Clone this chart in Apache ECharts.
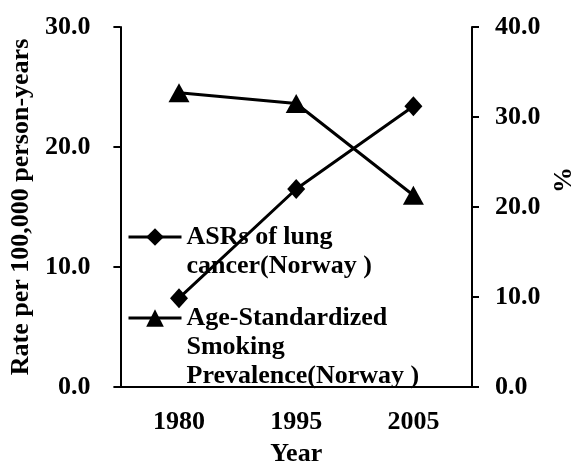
<!DOCTYPE html>
<html>
<head>
<meta charset="utf-8">
<script src="https://cdn.jsdelivr.net/npm/echarts@6/dist/echarts.min.js"></script>
<style>
  html, body { margin: 0; padding: 0; background: #fff; }
  #chart { width: 587px; height: 472px; }
</style>
</head>
<body>
<div id="chart"></div>
<script>
// data
const years = ['1980', '1995', '2005']
const lungRate = [7.4, 16.5, 23.4]        // left axis, per 100,000
const smokingPct = [32.7, 31.5, 21.3]     // right axis, %
const leftTicks = [0, 10, 20, 30]
const rightTicks = [0, 10, 20, 30, 40]

const FONT = 'Liberation Serif'
const txt = { fontFamily: FONT, fontWeight: 'bold', fontSize: 26, color: '#000' }

let chart = echarts.init(document.getElementById('chart'))

// legend text is centred on its icon, so pad with empty lines on top
// to keep the first line level with the icon (like excel does)
function legendItem(top, blanks) {
  return {
    left: 127, top: top, padding: 0,
    itemWidth: 53, itemHeight: 22,
    lineStyle: { width: 3, color: '#000' },
    textStyle: Object.assign({}, txt, { lineHeight: 29 }),
    formatter: name => '\n'.repeat(blanks) + name
  }
}

let option = {
  backgroundColor: '#fff',
  animation: false,
  grid: { left: 120, right: 115, top: 27, bottom: 78 },
  legend: [
    Object.assign(legendItem(193.5, 1), { data: ['ASRs of lung\ncancer(Norway )'] }),
    Object.assign(legendItem(245.5, 2), { data: ['Age-Standardized\nSmoking\nPrevalence(Norway )'] })
  ],
  xAxis: {
    type: 'category',
    data: years,
    name: 'Year',
    nameLocation: 'middle',
    nameGap: 54,
    nameTextStyle: txt,
    axisLine: { lineStyle: { color: '#000', width: 2 } },
    axisTick: { alignWithLabel: true, length: 6, lineStyle: { color: '#000', width: 2 } },
    axisLabel: Object.assign({}, txt, { margin: 22 }),
    splitLine: { show: false }
  },
  yAxis: [
    {
      type: 'value',
      min: leftTicks[0], max: leftTicks[leftTicks.length - 1], interval: 10,
      name: 'Rate per 100,000 person-years',
      nameLocation: 'middle',
      nameRotate: 90,
      nameGap: 82,
      nameTextStyle: txt,
      axisLine: { show: true, lineStyle: { color: '#000', width: 2 } },
      axisTick: { show: true, length: 7, lineStyle: { color: '#000', width: 2 } },
      axisLabel: Object.assign({}, txt, { margin: 30, formatter: v => v.toFixed(1) }),
      splitLine: { show: false }
    },
    {
      type: 'value',
      position: 'right',
      min: rightTicks[0], max: rightTicks[rightTicks.length - 1], interval: 10,
      name: '%',
      nameLocation: 'middle',
      nameRotate: 90,
      nameGap: 76,
      nameTextStyle: Object.assign({}, txt, { padding: [0, 0, 0, 54] }),
      axisLine: { show: true, lineStyle: { color: '#000', width: 2 } },
      axisTick: { show: true, length: 7, lineStyle: { color: '#000', width: 2 } },
      axisLabel: Object.assign({}, txt, { margin: 23, formatter: v => v.toFixed(1) }),
      splitLine: { show: false }
    }
  ],
  series: [
    {
      name: 'ASRs of lung\ncancer(Norway )',
      type: 'line',
      yAxisIndex: 0,
      data: lungRate,
      symbol: 'diamond',
      symbolSize: [18, 20],
      lineStyle: { color: '#000', width: 3 },
      itemStyle: { color: '#000' }
    },
    {
      name: 'Age-Standardized\nSmoking\nPrevalence(Norway )',
      type: 'line',
      yAxisIndex: 1,
      data: smokingPct,
      symbol: 'triangle',
      symbolSize: [21, 19],
      lineStyle: { color: '#000', width: 3 },
      itemStyle: { color: '#000' }
    }
  ]
}
chart.setOption(option)
</script>
</body>
</html>
